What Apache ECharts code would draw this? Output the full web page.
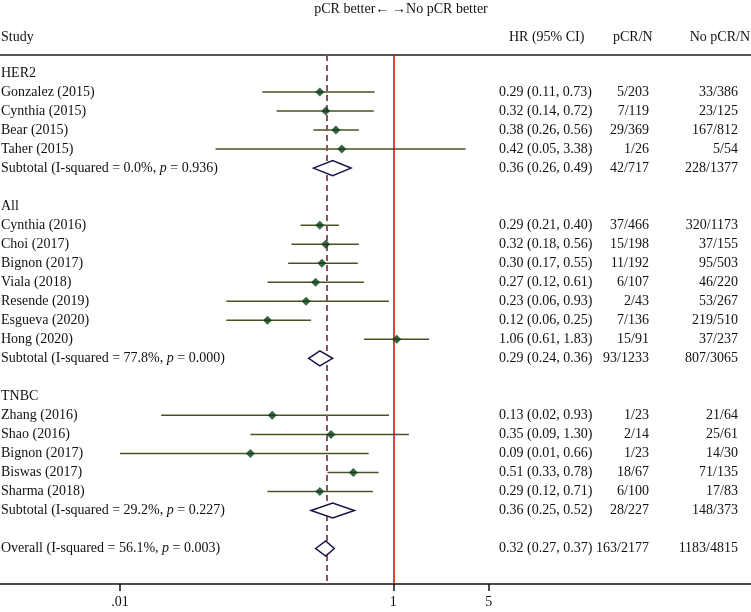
<!DOCTYPE html>
<html><head><meta charset="utf-8">
<script src="https://cdn.jsdelivr.net/npm/echarts@6/dist/echarts.min.js"></script>
<style>html,body{margin:0;padding:0;background:#fff}#c{width:751px;height:612px}</style>
</head><body><div id="c"></div>
<script>
// ---- data ----
const rowLabels = ["HER2","Gonzalez (2015)","Cynthia (2015)","Bear (2015)","Taher (2015)","Subtotal (I-squared = 0.0%, p = 0.936)","",
  "All","Cynthia (2016)","Choi (2017)","Bignon (2017)","Viala (2018)","Resende (2019)","Esgueva (2020)","Hong (2020)","Subtotal (I-squared = 77.8%, p = 0.000)","",
  "TNBC","Zhang (2016)","Shao (2016)","Bignon (2017)","Biswas (2017)","Sharma (2018)","Subtotal (I-squared = 29.2%, p = 0.227)","",
  "Overall (I-squared = 56.1%, p = 0.003)"];
const rowKind = ["group","study","study","study","study","pooled","blank",
  "group","study","study","study","study","study","study","study","pooled","blank",
  "group","study","study","study","study","study","pooled","blank","pooled"];
const hr     = [null,0.29,0.32,0.38,0.42,0.36,null, null,0.29,0.32,0.30,0.27,0.23,0.12,1.06,0.29,null, null,0.13,0.35,0.09,0.51,0.29,0.36,null,0.32];
const ciLow  = [null,0.11,0.14,0.26,0.05,0.26,null, null,0.21,0.18,0.17,0.12,0.06,0.06,0.61,0.24,null, null,0.02,0.09,0.01,0.33,0.12,0.25,null,0.27];
const ciHigh = [null,0.73,0.72,0.56,3.38,0.49,null, null,0.40,0.56,0.55,0.61,0.93,0.25,1.83,0.36,null, null,0.93,1.30,0.66,0.78,0.71,0.52,null,0.37];
const pcrN   = ["","5/203","7/119","29/369","1/26","42/717","", "","37/466","15/198","11/192","6/107","2/43","7/136","15/91","93/1233","", "","1/23","2/14","1/23","18/67","6/100","28/227","","163/2177"];
const noPcrN = ["","33/386","23/125","167/812","5/54","228/1377","", "","320/1173","37/155","95/503","46/220","53/267","219/510","37/237","807/3065","", "","21/64","25/61","14/30","71/135","17/83","148/373","","1183/4815"];
const xTickValues = [0.01, 1, 5];
const xTickLabels = [".01", "1", "5"];
const nullLine = 1;
const overallEstimate = 0.32;
const headers = ["Study", "HR (95% CI)", "pCR/N", "No pCR/N"];
const topTitle = "pCR better\u2190\u2009\u2192No pCR better";

// ---- build ----
const L = v => Math.log10(v);
const FONT = '"Liberation Serif", "DejaVu Serif", serif';
const FS = 14;
const PX_PER_DEC = 136.65, X_ONE = 393.3, W = 751;
const xMin = -X_ONE / PX_PER_DEC, xMax = (W - X_ONE) / PX_PER_DEC;
const TOP = 55, BOTTOM_Y = 584, ROW0 = 73, ROWH = 19.02;
const yMin = -(ROW0 - TOP) / ROWH, yMax = yMin + (BOTTOM_Y - TOP) / ROWH;

const studyCI = [], studyPts = [], pooled = [], textRows = [];
rowKind.forEach((k, i) => {
  textRows.push([0, i]);
  if (k === 'study') { studyCI.push([L(ciLow[i]), L(ciHigh[i]), i]); studyPts.push([L(hr[i]), i]); }
  if (k === 'pooled') pooled.push([L(ciLow[i]), L(hr[i]), L(ciHigh[i]), i]);
});
const tickVals = xTickValues.map(L);

function labelRich(s) {
  return s.replace(/, p = /, ', {i|p} = ');
}

const txt = (text, x, y, align) => ({type: 'text', silent: true,
  style: {text: text, fontFamily: FONT, fontSize: FS, fill: '#111', x: x, y: y, align: align, verticalAlign: 'middle'}});

const chart = echarts.init(document.getElementById('c'), null, {renderer: 'canvas'});
chart.setOption({
  backgroundColor: '#fff',
  animation: false,
  textStyle: {fontFamily: FONT},
  grid: {left: 0, right: 0, top: TOP, bottom: 612 - BOTTOM_Y, containLabel: false},
  xAxis: [{
    type: 'value', min: xMin, max: xMax, position: 'bottom',
    splitLine: {show: false},
    axisLine: {show: true, onZero: false, lineStyle: {color: '#111', width: 1.5}},
    axisTick: {show: true, customValues: tickVals, length: 7, lineStyle: {color: '#111', width: 1.5}},
    axisLabel: {show: true, customValues: tickVals, margin: 11, color: '#111', fontFamily: FONT, fontSize: FS,
      formatter: v => { let b = 0; tickVals.forEach((t, j) => { if (Math.abs(t - v) < Math.abs(tickVals[b] - v)) b = j; }); return xTickLabels[b]; }}
  }, {
    type: 'value', min: xMin, max: xMax, position: 'top',
    splitLine: {show: false},
    axisLine: {show: true, onZero: false, lineStyle: {color: '#555', width: 2}},
    axisTick: {show: false}, axisLabel: {show: false}
  }],
  yAxis: {type: 'value', inverse: true, min: yMin, max: yMax, show: false},
  graphic: [
    txt(topTitle, 401, 9, 'center'),
    txt(headers[0], 1, 37, 'left'),
    txt(headers[1], 509, 37, 'left'),
    txt(headers[2], 613, 37, 'left'),
    txt(headers[3], 750, 37, 'right')
  ],
  series: [
    {
      type: 'custom', name: 'ci', coordinateSystem: 'cartesian2d', clip: false,
      encode: {x: [0, 1], y: 2},
      data: studyCI,
      renderItem: (params, api) => {
        const a = api.coord([api.value(0), api.value(2)]);
        const b = api.coord([api.value(1), api.value(2)]);
        return {type: 'line', shape: {x1: a[0], y1: a[1], x2: b[0], y2: b[1]}, style: {stroke: '#465324', lineWidth: 1.5}};
      },
      z: 3
    },
    {
      type: 'scatter', name: 'est', data: studyPts, symbol: 'diamond', symbolSize: [9, 9],
      itemStyle: {color: '#073d14'}, z: 5,
      markLine: {
        silent: true, symbol: 'none', label: {show: false},
        data: [
          {xAxis: L(nullLine), lineStyle: {color: '#d40000', width: 1.5, type: 'solid'}},
          {xAxis: L(overallEstimate), lineStyle: {color: '#8a5560', width: 2, type: [6, 4]}}
        ]
      }
    },
    {
      type: 'custom', name: 'pooled', coordinateSystem: 'cartesian2d', clip: false,
      encode: {x: [0, 1, 2], y: 3},
      data: pooled,
      renderItem: (params, api) => {
        const r = api.value(3);
        const lo = api.coord([api.value(0), r]);
        const c = api.coord([api.value(1), r]);
        const hi = api.coord([api.value(2), r]);
        const h = 7.5;
        return {type: 'polygon', shape: {points: [[lo[0], lo[1]], [c[0], c[1] - h], [hi[0], hi[1]], [c[0], c[1] + h]]},
          style: {fill: '#fff', stroke: '#14144a', lineWidth: 1.5}};
      },
      z: 6
    },
    {
      type: 'custom', name: 'text', coordinateSystem: 'cartesian2d', clip: false,
      encode: {x: 0, y: 1},
      data: textRows,
      renderItem: (params, api) => {
        const i = api.value(1);
        const y = api.coord([0, i])[1];
        const kids = [];
        const base = {fontFamily: FONT, fontSize: FS, fill: '#111', verticalAlign: 'middle'};
        if (rowLabels[i]) kids.push({type: 'text', style: Object.assign({}, base, {text: labelRich(rowLabels[i]), x: 1, y: y, align: 'left',
          rich: {i: {fontStyle: 'italic', fontFamily: FONT, fontSize: FS, fill: '#111'}}})});
        if (hr[i] != null) kids.push({type: 'text', style: Object.assign({}, base, {text: hr[i].toFixed(2) + ' (' + ciLow[i].toFixed(2) + ', ' + ciHigh[i].toFixed(2) + ')', x: 499, y: y, align: 'left'})});
        if (pcrN[i]) kids.push({type: 'text', style: Object.assign({}, base, {text: pcrN[i], x: 649, y: y, align: 'right'})});
        if (noPcrN[i]) kids.push({type: 'text', style: Object.assign({}, base, {text: noPcrN[i], x: 738, y: y, align: 'right'})});
        return {type: 'group', children: kids};
      },
      z: 10
    }
  ]
});
</script></body></html>
